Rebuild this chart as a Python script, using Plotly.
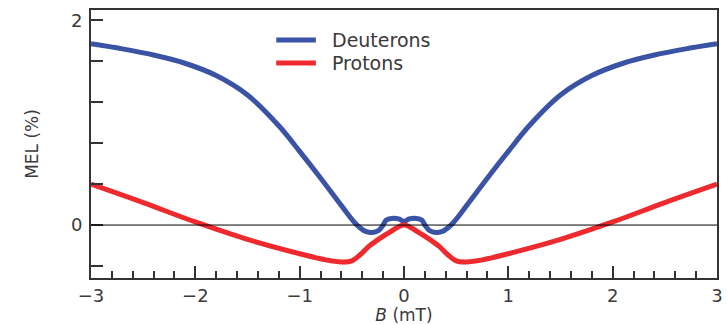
import plotly.graph_objects as go

# Data
b_deut = [-3.0, -2.7, -2.4, -2.1, -1.8, -1.5, -1.2, -1.0, -0.8, -0.6, -0.45, -0.36, -0.29, -0.24, -0.2, -0.17, -0.12, -0.05, 0.0,
          0.05, 0.12, 0.17, 0.2, 0.24, 0.29, 0.36, 0.45, 0.6, 0.8, 1.0, 1.2, 1.5, 1.8, 2.1, 2.4, 2.7, 3.0]
mel_deut = [1.77, 1.72, 1.66, 1.58, 1.46, 1.27, 0.97, 0.72, 0.46, 0.19, 0.0, -0.065, -0.07, -0.05, 0.0, 0.05, 0.065, 0.06, 0.035,
            0.06, 0.065, 0.05, 0.0, -0.05, -0.07, -0.065, 0.0, 0.19, 0.46, 0.72, 0.97, 1.27, 1.46, 1.58, 1.66, 1.72, 1.77]

b_prot = [-3.0, -2.5, -2.0, -1.5, -1.0, -0.75, -0.6, -0.5, -0.42, -0.34, -0.26, -0.13, 0.0,
          0.13, 0.26, 0.34, 0.42, 0.5, 0.6, 0.75, 1.0, 1.5, 2.0, 2.5, 3.0]
mel_prot = [0.40, 0.22, 0.03, -0.14, -0.28, -0.34, -0.36, -0.35, -0.29, -0.21, -0.15, -0.065, 0.0,
            -0.065, -0.15, -0.21, -0.29, -0.35, -0.36, -0.34, -0.28, -0.14, 0.03, 0.22, 0.40]

series_names = ["Deuterons", "Protons"]
x_tickvals = [-3, -2, -1, 0, 1, 2, 3]
x_ticktext = ["\u22123", "\u22122", "\u22121", "0", "1", "2", "3"]
y_tickvals = [-0.4, 0, 0.4, 0.8, 1.2, 1.6, 2.0]
y_ticktext = ["", "0", "", "", "", "", "2"]

BLUE = "#3a53a4"
RED = "#ee2a2e"
TXT = "#3a3a3a"
FONT = "DejaVu Sans"

fig = go.Figure()
fig.add_trace(go.Scatter(x=b_deut, y=mel_deut, mode="lines", name=series_names[0],
                         line=dict(color=BLUE, width=5, shape="spline", smoothing=1.0),
                         showlegend=False))
fig.add_trace(go.Scatter(x=b_prot, y=mel_prot, mode="lines", name=series_names[1],
                         line=dict(color=RED, width=5, shape="spline", smoothing=1.0),
                         showlegend=False))

# zero line
fig.add_shape(type="line", xref="paper", yref="y", x0=0, x1=1, y0=0, y1=0,
              line=dict(color="black", width=1), layer="above")

# manual legend
W, H = 727, 325
L, R, T, B = 91, 4, 10, 47
pw, ph = W - L - R, H - T - B

def px(xp):
    return (xp - L) / pw

def py(yp):
    return (H - B - yp) / ph

for name, color, ypix in [(series_names[0], BLUE, 40), (series_names[1], RED, 63)]:
    fig.add_shape(type="line", xref="paper", yref="paper", x0=px(278), x1=px(318), y0=py(ypix), y1=py(ypix),
                  line=dict(color=color, width=5))
    fig.add_annotation(xref="paper", yref="paper", x=px(332), y=py(ypix), text=name, showarrow=False,
                       xanchor="left", yanchor="middle", font=dict(family=FONT, size=19, color=TXT))

fig.update_layout(
    width=W, height=H,
    margin=dict(l=L, r=R, t=T, b=B),
    plot_bgcolor="white", paper_bgcolor="white",
    font=dict(family=FONT, size=17, color=TXT),
)
fig.update_xaxes(range=[-3, 3], tickvals=x_tickvals, ticktext=x_ticktext,
                 ticks="inside", ticklen=12, tickwidth=1.5, tickcolor="#333",
                 minor=dict(dtick=0.2, tick0=0, ticks="inside", ticklen=7, tickwidth=1.5, tickcolor="#333"),
                 showline=True, linecolor="#333", linewidth=2, mirror=True,
                 showgrid=False, zeroline=False,
                 tickfont=dict(size=18, color=TXT),
                 title=dict(text="<i>B</i> (mT)", font=dict(size=17, color=TXT), standoff=1))
fig.update_yaxes(range=[-0.517, 2.1], tickvals=y_tickvals, ticktext=y_ticktext,
                 ticks="inside", ticklen=12, tickwidth=1.5, tickcolor="#333",
                 ticklabelstandoff=3,
                 showline=True, linecolor="#333", linewidth=2, mirror=True,
                 showgrid=False, zeroline=False,
                 tickfont=dict(size=18, color=TXT),
                 title=dict(text="MEL (%)", font=dict(size=17, color=TXT), standoff=28))

fig.write_html("out.html")
